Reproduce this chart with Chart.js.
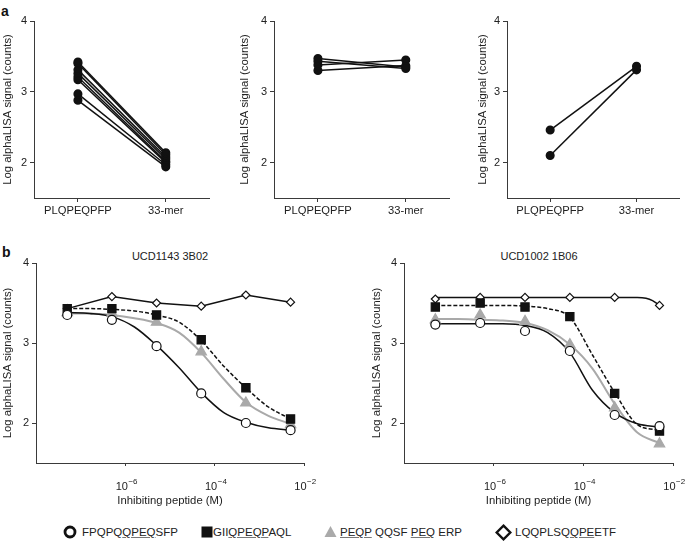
<!DOCTYPE html>
<html lang="en">
<head>
<meta charset="UTF-8">
<title>alphaLISA signal</title>
<script src="https://cdn.jsdelivr.net/npm/chart.js"></script>
<style>
  body { margin: 0; background: #fff; font-family: "Liberation Sans", Arial, sans-serif; color: #222; }
  #wrap { position: relative; width: 685px; height: 541px; overflow: hidden; }
  canvas { position: absolute; }
  .panel { position: absolute; font-weight: bold; font-size: 14px; line-height: 14px; color: #111; }
  .title { position: absolute; font-size: 11px; line-height: 13px; white-space: nowrap; transform: translateX(-50%); }
  .leg { position: absolute; top: 525px; font-size: 11.5px; line-height: 14px; white-space: nowrap; }
  .leg u { text-decoration-color: #777; text-underline-offset: 1px; }
  .mark { position: absolute; }
</style>
</head>
<body>
<div id="wrap">
  <div class="panel" style="left:1px;top:4px;">a</div>
  <div class="panel" style="left:2px;top:245px;">b</div>
  <div class="title" style="left:170px;top:250px;">UCD1143 3B02</div>
  <div class="title" style="left:539px;top:250px;">UCD1002 1B06</div>

  <canvas id="a1"></canvas>
  <canvas id="a2"></canvas>
  <canvas id="a3"></canvas>
  <canvas id="b1"></canvas>
  <canvas id="b2"></canvas>

  <svg class="mark" style="left:63px;top:525px" width="14" height="14"><circle cx="7" cy="7" r="5" fill="#fff" stroke="#111" stroke-width="2.8"/></svg>
  <div class="leg" style="left:82px">FPQPQ<u>QPEQ</u>SFP</div>
  <svg class="mark" style="left:201px;top:526px" width="12" height="12"><rect x="0.5" y="0.5" width="11" height="11" fill="#111"/></svg>
  <div class="leg" style="left:213px">GII<u>QPEQP</u>AQL</div>
  <svg class="mark" style="left:324px;top:525px" width="13" height="13"><polygon points="6.5,1 12.5,12 0.5,12" fill="#aaa"/></svg>
  <div class="leg" style="left:340px"><u>PEQP</u> QQSF <u>PEQ</u> ERP</div>
  <svg class="mark" style="left:495px;top:524px" width="17" height="17"><polygon points="8.5,1.7 15.3,8.5 8.5,15.3 1.7,8.5" fill="#fff" stroke="#111" stroke-width="2.4"/></svg>
  <div class="leg" style="left:515px">LQQPLSQ<u>QPE</u>ETF</div>
</div>

<script>
// panel a: before / after pairs
const categories = ['PLQPEQPFP', '33-mer'];
const a1Before = [3.42, 3.40, 3.31, 3.26, 3.21, 3.17, 2.97, 2.88];
const a1After  = [2.14, 2.11, 2.08, 2.05, 2.02, 2.00, 1.97, 1.94];
const a2Before = [3.47, 3.43, 3.38, 3.30];
const a2After  = [3.35, 3.33, 3.45, 3.37];
const a3Before = [2.46, 2.10];
const a3After  = [3.36, 3.31];
const yTicks = [2, 3, 4];

// panel b: inhibition data
const conc = [5e-8, 5e-7, 5e-6, 5e-5, 5e-4, 5e-3];
const b1Circle   = [3.35, 3.29, 2.96, 2.37, 2.00, 1.91];
const b1Square   = [3.43, 3.43, 3.35, 3.04, 2.44, 2.05];
const b1Triangle = [3.38, 3.37, 3.26, 2.89, 2.25, 1.98];
const b1Diamond  = [3.43, 3.58, 3.50, 3.46, 3.60, 3.51];
const b2Circle   = [3.23, 3.25, 3.15, 2.90, 2.10, 1.96];
const b2Square   = [3.45, 3.50, 3.45, 3.33, 2.37, 1.90];
const b2Triangle = [3.29, 3.35, 3.27, 2.98, 2.19, 1.74];
const b2Diamond  = [3.55, 3.57, 3.57, 3.57, 3.57, 3.47];

// fitted curves
const fitConc = [5e-8, 1.6e-7, 5e-7, 1.6e-6, 5e-6, 1.6e-5, 5e-5, 1.6e-4, 5e-4, 1.6e-3, 5e-3];
const b1CircleFit   = [3.38, 3.37, 3.33, 3.20, 2.97, 2.69, 2.38, 2.13, 2.01, 1.94, 1.91];
const b1SquareFit   = [3.43, 3.43, 3.42, 3.40, 3.35, 3.26, 3.03, 2.71, 2.44, 2.20, 2.05];
const b1TriangleFit = [3.37, 3.37, 3.35, 3.31, 3.25, 3.13, 2.88, 2.55, 2.26, 2.09, 1.99];
const b2CircleFit   = [3.24, 3.24, 3.24, 3.24, 3.22, 3.13, 2.88, 2.41, 2.13, 1.99, 1.95];
const b2SquareFit   = [3.47, 3.47, 3.47, 3.47, 3.46, 3.43, 3.32, 2.85, 2.38, 1.98, 1.91];
const b2TriangleFit = [3.30, 3.30, 3.29, 3.28, 3.25, 3.16, 2.98, 2.68, 2.24, 1.88, 1.75];
const b2DiamondFitConc = [5e-8, 5e-7, 5e-6, 5e-5, 5e-4, 1.6e-3, 2.5e-3, 3.5e-3, 5e-3];
const b2DiamondFit     = [3.57, 3.57, 3.57, 3.57, 3.57, 3.57, 3.56, 3.53, 3.47];

const xTickVals = [1e-6, 1e-4, 1e-2];
const xTickExps = [-6, -4, -2];

const AX = '#3a3a3a';
const TXT = '#222';
const GREY = '#a9a9a9';
const FONT = '"Liberation Sans", Arial, sans-serif';
const yTitle = 'Log alphaLISA signal (counts)';

Chart.defaults.font.family = FONT;
Chart.defaults.color = TXT;

function place(id, left, top, width, height) {
  const c = document.getElementById(id);
  c.width = width; c.height = height;
  c.style.left = left + 'px'; c.style.top = top + 'px';
  c.style.width = width + 'px'; c.style.height = height + 'px';
  return c;
}

function yAxis(width) {
  return {
    min: 1.5, max: 4,
    grid: { drawOnChartArea: false, tickLength: 4, color: AX },
    border: { color: AX, width: 1 },
    ticks: { font: { size: 11 }, padding: 3, color: TXT },
    title: { display: true, text: yTitle, color: TXT, font: { size: 11.3 }, padding: { top: 1, bottom: 0 } },
    afterBuildTicks: s => { s.ticks = yTicks.map(v => ({ value: v })); },
    afterFit: s => { s.width = width; }
  };
}

function panelA(id, left, top, width, height, area, before, after) {
  const c = place(id, left, top, width, height);
  const datasets = before.map((v, i) => ({
    data: [v, after[i]],
    borderColor: '#111', backgroundColor: '#111',
    borderWidth: 1.5, pointRadius: 3.8, pointHoverRadius: 3.8
  }));
  new Chart(c, {
    type: 'line',
    data: { labels: categories, datasets },
    options: {
      responsive: false, animation: false, devicePixelRatio: 1,
      layout: { padding: { top: area.t - top, right: left + width - area.r, left: 0, bottom: 0 } },
      plugins: { legend: { display: false }, tooltip: { enabled: false } },
      scales: {
        x: {
          offset: true,
          grid: { drawOnChartArea: false, offset: false, tickLength: 4, color: AX },
          border: { color: AX, width: 1 },
          ticks: { font: { size: 11.2 }, padding: 2, color: TXT, maxRotation: 0 },
          afterFit: s => { s.height = top + height - area.b; }
        },
        y: yAxis(area.l - left)
      }
    }
  });
}

const logTickLabels = {
  id: 'logTickLabels',
  afterDraw(chart) {
    const s = chart.scales.x, ctx = chart.ctx, bottom = chart.chartArea.bottom;
    ctx.save();
    ctx.fillStyle = TXT;
    ctx.textBaseline = 'alphabetic';
    ctx.textAlign = 'left';
    xTickVals.forEach((v, i) => {
      const px = s.getPixelForValue(v);
      const base = '10', sup = '\u2212' + Math.abs(xTickExps[i]);
      ctx.font = '11px ' + FONT;
      const w1 = ctx.measureText(base).width;
      ctx.font = '8px ' + FONT;
      const w2 = ctx.measureText(sup).width;
      const x0 = px - (w1 + w2) / 2 + 1;
      ctx.font = '11px ' + FONT;
      ctx.fillText(base, x0, bottom + 26.5);
      ctx.font = '8px ' + FONT;
      ctx.fillText(sup, x0 + w1 + 0.5, bottom + 21);
    });
    ctx.restore();
  }
};

function pts(xs, ys) { return xs.map((x, i) => ({ x, y: ys[i] })); }

function fit(xs, ys, color, width, dash) {
  return {
    data: pts(xs, ys), borderColor: color, borderWidth: width,
    borderDash: dash || [], pointRadius: 0, pointHoverRadius: 0,
    cubicInterpolationMode: 'monotone', order: 2
  };
}

function marks(ys, style, radius, fill, stroke, line) {
  return {
    data: pts(conc, ys), pointStyle: style, pointRadius: radius, pointHoverRadius: radius,
    backgroundColor: fill, borderColor: stroke, pointBorderWidth: 1.2,
    borderWidth: 1.5, showLine: !!line, order: 1
  };
}

function panelB(id, left, top, width, height, area, datasets) {
  const c = place(id, left, top, width, height);
  new Chart(c, {
    type: 'line',
    data: { datasets },
    options: {
      responsive: false, animation: false, devicePixelRatio: 1,
      layout: { padding: { top: area.t - top, right: left + width - area.r, left: 0, bottom: 0 } },
      plugins: { legend: { display: false }, tooltip: { enabled: false } },
      scales: {
        x: {
          type: 'logarithmic', min: 1e-8, max: 1e-2,
          grid: { drawOnChartArea: false, tickLength: 3, color: AX },
          border: { color: AX, width: 1 },
          ticks: { display: false },
          title: { display: true, text: 'Inhibiting peptide (M)', color: TXT, font: { size: 11.3 }, padding: 0 },
          afterBuildTicks: s => { s.ticks = xTickVals.map(v => ({ value: v })); },
          afterFit: s => { s.height = top + height - area.b; }
        },
        y: yAxis(area.l - left)
      }
    },
    plugins: [logTickLabels]
  });
}

panelA('a1', 0, 0, 215, 226, { l: 34, t: 21, r: 211, b: 198 }, a1Before, a1After);
panelA('a2', 237, 0, 218, 226, { l: 274, t: 21, r: 452, b: 198 }, a2Before, a2After);
panelA('a3', 475, 0, 210, 226, { l: 507, t: 21, r: 684, b: 198 }, a3Before, a3After);

panelB('b1', 0, 240, 326, 268, { l: 36, t: 263, r: 304, b: 463 }, [
  marks(b1Circle, 'circle', 4.5, '#fff', '#111'),
  marks(b1Square, 'rect', 5.8, '#111', '#111'),
  marks(b1Triangle, 'triangle', 6, GREY, GREY),
  marks(b1Diamond, 'rectRot', 4, '#fff', '#111', true),
  fit(fitConc, b1CircleFit, '#111', 1.5),
  fit(fitConc, b1SquareFit, '#111', 1.5, [4, 2]),
  fit(fitConc, b1TriangleFit, GREY, 2)
]);

panelB('b2', 369, 240, 316, 268, { l: 404, t: 263, r: 673, b: 463 }, [
  marks(b2Circle, 'circle', 4.5, '#fff', '#111'),
  marks(b2Square, 'rect', 5.8, '#111', '#111'),
  marks(b2Triangle, 'triangle', 6, GREY, GREY),
  marks(b2Diamond, 'rectRot', 4, '#fff', '#111'),
  fit(fitConc, b2CircleFit, '#111', 1.5),
  fit(fitConc, b2SquareFit, '#111', 1.5, [4, 2]),
  fit(fitConc, b2TriangleFit, GREY, 2),
  fit(b2DiamondFitConc, b2DiamondFit, '#111', 1.5)
]);
</script>
</body>
</html>
